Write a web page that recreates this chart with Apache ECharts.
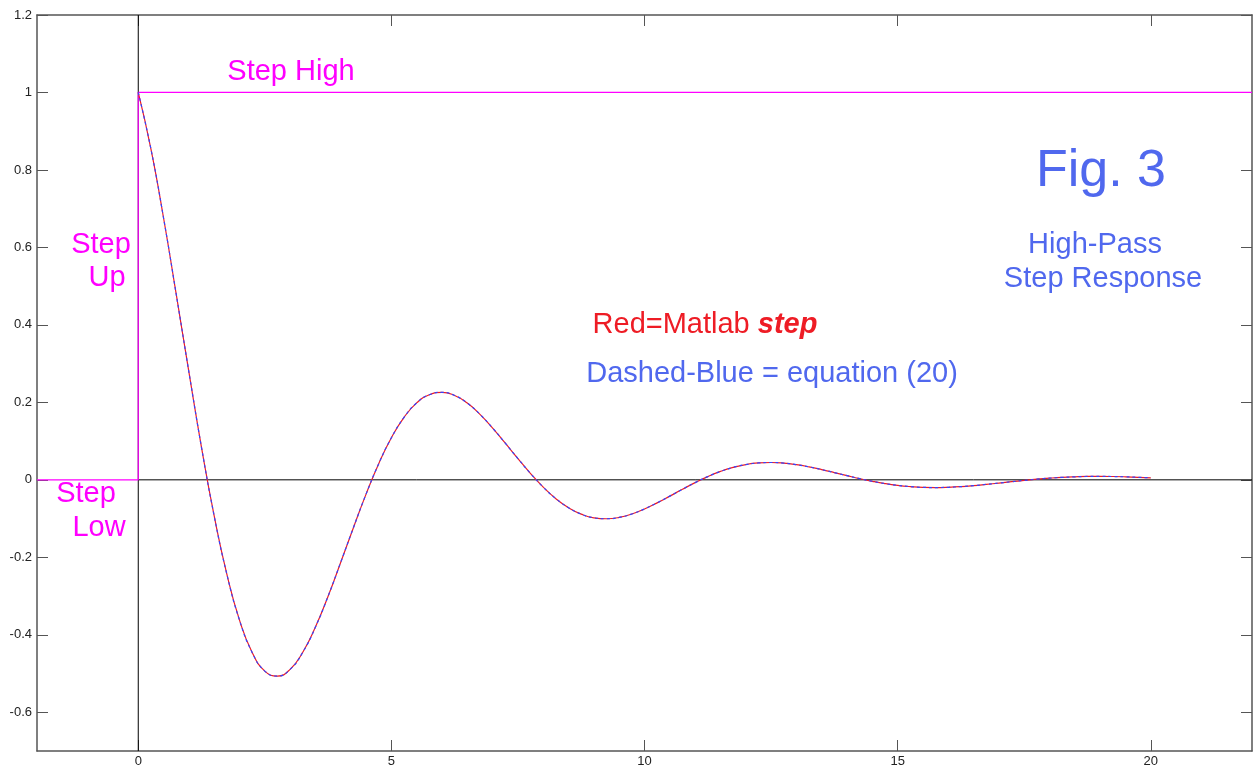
<!DOCTYPE html>
<html>
<head>
<meta charset="utf-8">
<script src="https://cdn.jsdelivr.net/npm/echarts@6/dist/echarts.min.js"></script>
<style>html,body{margin:0;padding:0;background:#fff;}#c{width:1253px;height:769px;}</style>
</head>
<body>
<div id="c"></div>
<script>
// time samples (s)
var timeValues = [0,0.25,0.5,0.75,1,1.25,1.5,1.75,2,2.25,2.5,2.75,3,3.25,3.5,3.75,4,4.25,4.5,4.75,5,5.25,5.5,5.75,6,6.25,6.5,6.75,7,7.25,7.5,7.75,8,8.25,8.5,8.75,9,9.25,9.5,9.75,10,10.25,10.5,10.75,11,11.25,11.5,11.75,12,12.25,12.5,12.75,13,13.25,13.5,13.75,14,14.25,14.5,14.75,15,15.25,15.5,15.75,16,16.25,16.5,16.75,17,17.25,17.5,17.75,18,18.25,18.5,18.75,19,19.25,19.5,19.75,20];
// step response
var responseValues = [1,0.8545,0.676,0.4792,0.2788,0.0834,-0.0933,-0.2436,-0.3622,-0.4456,-0.4937,-0.5066,-0.4892,-0.4451,-0.3801,-0.3004,-0.2126,-0.1235,-0.0369,0.0417,0.1086,0.1614,0.1987,0.2198,0.2258,0.2178,0.1981,0.1691,0.1337,0.0946,0.0549,0.0162,-0.0188,-0.0486,-0.072,-0.0885,-0.098,-0.1004,-0.097,-0.0881,-0.0752,-0.0594,-0.042,-0.0243,-0.0072,0.0084,0.0217,0.0321,0.0395,0.0436,0.0448,0.0432,0.0392,0.0335,0.0265,0.0187,0.0108,0.0031,-0.0038,-0.0097,-0.0143,-0.0175,-0.0195,-0.0199,-0.0192,-0.0175,-0.0149,-0.0117,-0.0083,-0.0048,-0.0014,0.0017,0.0043,0.0064,0.0078,0.0087,0.0089,0.0086,0.0078,0.0066,0.0052];
// step input
var stepX = [-2,0,0,22];
var stepY = [0,0,1,1];
var xTickLabels = [0,5,10,15,20];
var yTickLabels = [-0.6,-0.4,-0.2,0,0.2,0.4,0.6,0.8,1,1.2];

var resp = timeValues.map(function(t,i){return [t,responseValues[i]];});
var step = stepX.map(function(x,i){return [x,stepY[i]];});

var chart = echarts.init(document.getElementById('c'), null, {renderer:'canvas'});
var axisLineStyle = {color:'#555', width:1.5};
var fontFam = '"Liberation Sans", Arial, sans-serif';
var blue = '#5068ee', magenta = '#ff00ff', red = '#ee1c25';

function fmt(v){ return String(+(+v).toFixed(1)); }

var option = {
  animation:false,
  backgroundColor:'#fff',
  grid:{left:37, right:1, top:15, bottom:18, containLabel:false},
  xAxis:[
    {type:'value', min:-2, max:22, interval:1, position:'bottom',
     axisLine:{show:true, onZero:false, lineStyle:axisLineStyle},
     axisTick:{show:true, inside:true, length:11, customValues:xTickLabels, lineStyle:{color:'#555'}},
     axisLabel:{show:true, customValues:xTickLabels, margin:4, fontSize:13, color:'#222', fontFamily:fontFam, formatter:fmt},
     splitLine:{show:false}},
    {type:'value', min:-2, max:22, interval:1, position:'top',
     axisLine:{show:true, onZero:false, lineStyle:axisLineStyle},
     axisTick:{show:true, inside:true, length:11, customValues:xTickLabels, lineStyle:{color:'#555'}},
     axisLabel:{show:false}, splitLine:{show:false}}
  ],
  yAxis:[
    {type:'value', min:-0.7, max:1.2, interval:0.1, position:'left',
     axisLine:{show:true, onZero:false, lineStyle:axisLineStyle},
     axisTick:{show:true, inside:true, length:11, customValues:yTickLabels, lineStyle:{color:'#555'}},
     axisLabel:{show:true, customValues:yTickLabels, margin:5, fontSize:13, color:'#222', fontFamily:fontFam, formatter:fmt},
     splitLine:{show:false}},
    {type:'value', min:-0.7, max:1.2, interval:0.1, position:'right',
     axisLine:{show:true, onZero:false, lineStyle:axisLineStyle},
     axisTick:{show:true, inside:true, length:11, customValues:yTickLabels, lineStyle:{color:'#555'}},
     axisLabel:{show:false}, splitLine:{show:false}}
  ],
  series:[
    {type:'line', name:'zeroV', data:[[0,-0.7],[0,1.2]], showSymbol:false, symbol:'none', silent:true,
     lineStyle:{color:'#000', width:1}, z:1},
    {type:'line', name:'zeroH', data:[[0,0],[22,0]], showSymbol:false, symbol:'none', silent:true,
     lineStyle:{color:'#000', width:1}, z:1},
    {type:'line', name:'Step', data:step, showSymbol:false, symbol:'none', silent:true,
     lineStyle:{color:magenta, width:1.2}, z:2},
    {type:'line', name:'Matlab step', data:resp, smooth:true, showSymbol:false, symbol:'none',
     lineStyle:{color:red, width:1.2}, z:3},
    {type:'line', name:'equation (20)', data:resp, smooth:true, showSymbol:false, symbol:'none',
     lineStyle:{color:'#3344ff', width:1.2, type:[3,3]}, z:4}
  ],
  graphic:[
    {type:'text', x:291, y:72, style:{text:'Step High', fill:magenta, font:'29px '+fontFam, textAlign:'center', textVerticalAlign:'middle'}},
    {type:'text', x:101, y:245, style:{text:'Step', fill:magenta, font:'29px '+fontFam, textAlign:'center', textVerticalAlign:'middle'}},
    {type:'text', x:107, y:278, style:{text:'Up', fill:magenta, font:'29px '+fontFam, textAlign:'center', textVerticalAlign:'middle'}},
    {type:'text', x:86, y:494, style:{text:'Step', fill:magenta, font:'29px '+fontFam, textAlign:'center', textVerticalAlign:'middle'}},
    {type:'text', x:99, y:528, style:{text:'Low', fill:magenta, font:'29px '+fontFam, textAlign:'center', textVerticalAlign:'middle'}},
    {type:'text', x:1101, y:172, style:{text:'Fig. 3', fill:blue, font:'52px '+fontFam, textAlign:'center', textVerticalAlign:'middle'}},
    {type:'text', x:1095, y:245, style:{text:'High-Pass', fill:blue, font:'29px '+fontFam, textAlign:'center', textVerticalAlign:'middle'}},
    {type:'text', x:1103, y:279, style:{text:'Step Response', fill:blue, font:'29px '+fontFam, textAlign:'center', textVerticalAlign:'middle'}},
    {type:'text', x:705, y:325, style:{text:'{a|Red=Matlab }{b|step}', textAlign:'center', textVerticalAlign:'middle',
      rich:{a:{fill:red, font:'29px '+fontFam}, b:{fill:red, font:'italic bold 29px '+fontFam}}}},
    {type:'text', x:772, y:374, style:{text:'Dashed-Blue = equation (20)', fill:blue, font:'29px '+fontFam, textAlign:'center', textVerticalAlign:'middle'}}
  ]
};
chart.setOption(option);
</script>
</body>
</html>
